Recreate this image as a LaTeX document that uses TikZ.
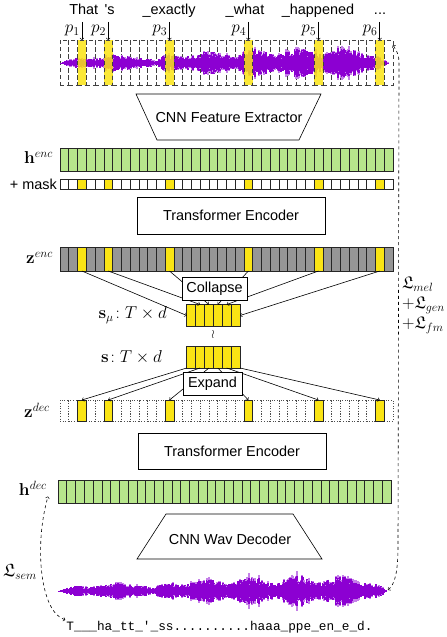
\documentclass[tikz,border=0pt]{standalone}
\usepackage{amsmath}
\usepackage{amsfonts}
\usepackage[no-math]{fontspec}
\setmainfont{Liberation Sans}
\setmonofont{Liberation Mono}
\usepackage{tikz}
\usetikzlibrary{positioning}

\definecolor{hgreen}{RGB}{183,230,140}
\definecolor{tokyellow}{RGB}{250,228,20}
\definecolor{zgray}{RGB}{150,150,150}
\definecolor{wavepurple}{RGB}{140,0,210}

\tikzset{
  cellbase/.style={inner sep=0pt, outer sep=0pt, minimum width=8.76bp, line width=0.6bp},
  wavecell/.style={cellbase, draw=black!75, dash pattern=on 4bp off 3bp, minimum height=45bp},
  hcell/.style={cellbase, draw=black!85, fill=hgreen, minimum height=23bp},
  maskcell/.style={cellbase, draw=black!85, fill=white, minimum height=10bp},
  zcell/.style={cellbase, draw=black!85, fill=zgray, minimum height=24bp},
  dcell/.style={cellbase, draw=black!70, dotted, minimum height=21bp},
  ycell/.style={cellbase, draw=black!85, fill=tokyellow},
  scell/.style={cellbase, draw=black!85, fill=tokyellow, minimum width=8.89bp, minimum height=22bp},
  blockbox/.style={draw, line width=0.6bp, fill=white, inner sep=0pt},
  lab/.style={inner sep=1bp},
  mathlab/.style={inner sep=1bp, font=\fontsize{18}{20}\selectfont},
  lossarc/.style={dashed, line width=0.6bp, <->},
  flow/.style={->, line width=0.6bp},
  wavelite/.style={draw=wavepurple!50, line width=1.1bp},
  wavedark/.style={draw=wavepurple, line width=1.1bp}
}

\begin{document}
\begin{tikzpicture}[x=1bp, y=-1bp, font=\fontsize{14.5}{17}\selectfont]
\useasboundingbox (0,0) rectangle (447,637);

% input strip, cells first
\foreach \i in {0,...,37}
  \node[wavecell] (w-\i) at ({60+(\i+0.5)*8.76}, 62.5) {};

% both waveforms
\foreach \wx/\wy/\sd in {60/63/5, 58/591/17}{
  \pgfmathsetseed{\sd}
  \foreach \j in {0,...,329}{
    \pgfmathsetmacro\wt{\j/329}
    \pgfmathsetmacro\amp{19*(1-exp(-\wt*25))*(1-exp(-(1-\wt)*18))*(0.35+0.65*\wt)*(0.8+0.2*sin(\wt*2600))*(1-0.7/(1+((\wt-0.29)/0.02)^2))*(0.45+0.55*rnd)}
    \pgfmathsetmacro\ampl{\amp*(1+0.4*rnd*rnd)}
    \draw[wavelite] (\wx+\j,\wy-\ampl) -- (\wx+\j,\wy+\ampl);
    \draw[wavedark] (\wx+\j,\wy-\amp) -- (\wx+\j,\wy+\amp);
  }
}

% words and positions
\node[anchor=base] (word-1) at (92,15) {That~\,\textquotesingle s};
\node[anchor=base] (word-2) at (169,15) {\_exactly};
\node[anchor=base] (word-3) at (245,15) {\_what};
\node[anchor=base] (word-4) at (318,15) {\_happened};
\node[anchor=base] (word-5) at (380,15) {...};

\foreach \i/\lab [count=\k from 0] in {2/1,5/2,12/3,21/4,29/5,36/6}{
  \node[wavecell, fill=tokyellow, fill opacity=0.85] (wy-\k) at ({60+(\i+0.5)*8.76}, 62.5) {};
  \coordinate (pa-\k) at ({60+(\i+0.5)*8.76}, 22);
  \draw[flow] (pa-\k) -- (wy-\k.north);
  \node[mathlab, font=\fontsize{17}{18}\selectfont, anchor=base east] (plab-\k) at ({60+(\i+0.5)*8.76-1}, 33) {$p_{\lab}$};
}

% CNN feature extractor
\draw[line width=0.6bp] (136,94) -- (321,94) -- (299,140) -- (157,140) -- cycle;
\node (fenc) at (229,118) {CNN Feature Extractor};

% rows of frames
\foreach \i in {0,...,37}{
  \node[hcell] (he-\i) at ({60+(\i+0.5)*8.76}, 159.5) {};
  \node[maskcell] (mk-\i) at ({60+(\i+0.5)*8.76}, 184) {};
  \node[zcell] (ze-\i) at ({60+(\i+0.5)*8.76}, 259) {};
  \node[dcell] (zd-\i) at ({60+(\i+0.5)*8.76}, 410.5) {};
  \node[hcell] (hd-\i) at ({58+(\i+0.5)*8.76}, 491.5) {};
}
\foreach \i [count=\k from 0] in {2,5,12,21,29,36}{
  \node[ycell, minimum height=10bp] (mky-\k) at ({60+(\i+0.5)*8.76}, 184) {};
  \node[ycell, minimum height=24bp] (zey-\k) at ({60+(\i+0.5)*8.76}, 259) {};
  \node[ycell, minimum height=21bp] (zdy-\k) at ({60+(\i+0.5)*8.76}, 410.5) {};
}

\node[mathlab, anchor=east] (henclab) at (54,158) {$\mathbf{h}^{enc}$};
\node[lab, anchor=east] (masklab) at (58,184) {+ mask};
\node[mathlab, anchor=east] (zenclab) at (54,258) {$\mathbf{z}^{enc}$};
\node[mathlab, anchor=east] (zdeclab) at (51,410) {$\mathbf{z}^{dec}$};
\node[mathlab, anchor=east] (hdeclab) at (48,488) {$\mathbf{h}^{dec}$};

\node[blockbox, minimum width=188bp, minimum height=37bp] (tenc) at (231,215.5) {Transformer Encoder};

% T x d tokens
\foreach \k in {0,...,5}{
  \node[scell] (mu-\k) at ({186.7+(\k+0.5)*8.89}, 315.5) {};
  \node[scell] (s-\k) at ({186.7+(\k+0.5)*8.89}, 357) {};
}
\node[mathlab, anchor=east] (mulab) at (168,315) {$\mathbf{s}_\mu\!:T\times d$};
\node[lab, font=\fontsize{12}{12}\selectfont] (wrlab) at (213,335) {$\wr$};
\node[mathlab, anchor=east] (slab) at (163,357) {$\mathbf{s}\!:T\times d$};

% collapse
\draw[flow] (zey-0.south) -- (mu-0.west);
\foreach \k in {1,...,4}
  \draw[flow] (zey-\k.south) -- (mu-\k.north);
\draw[flow] (zey-5.south) -- (mu-5.east);
\node[blockbox, minimum width=65bp, minimum height=23bp] (collapse) at (214.5,288.5) {Collapse};

% expand
\draw[flow] (s-0.south west) -- (zdy-0.north);
\foreach \k in {1,...,4}
  \draw[flow] (s-\k.south) -- (zdy-\k.north);
\draw[flow] (s-5.south east) -- (zdy-5.north);
\node[blockbox, minimum width=59bp, minimum height=23bp] (expand) at (212.5,383.5) {Expand};

\node[blockbox, minimum width=188bp, minimum height=36bp] (tdec) at (232,451) {Transformer Encoder};

% CNN wav decoder
\draw[line width=0.6bp] (166,514) -- (293,514) -- (322,559) -- (137,559) -- cycle;
\node (wdec) at (230,539) {CNN Wav Decoder};

% ctc output
\node[lab] (ctc) at (219.5,627) {\ttfamily\fontsize{12.8}{14}\selectfont T\_\_\_ha\_tt\_\textquotesingle\_ss..........haaa\_ppe\_en\_e\_d.};

% losses
\coordinate (wtop) at (393,45);
\coordinate (wbot) at (388,590);
\draw[lossarc] (wbot) .. controls (395,584) and (398,572) .. (398,545) -- (399,70) .. controls (399,55) .. (wtop);
\draw[lossarc] (ctc.north west) .. controls (40,612) and (34,545) .. (hdeclab.south east);
\node[mathlab] (semlab) at (20,572) {$\mathfrak{L}_{sem}$};
\node[mathlab, anchor=north west, align=left, font=\fontsize{17}{20}\selectfont] (losslab) at (401,276)
  {$\mathfrak{L}_{mel}$\\$+\mathfrak{L}_{gen}$\\$+\mathfrak{L}_{fm}$};
\end{tikzpicture}
\end{document}
